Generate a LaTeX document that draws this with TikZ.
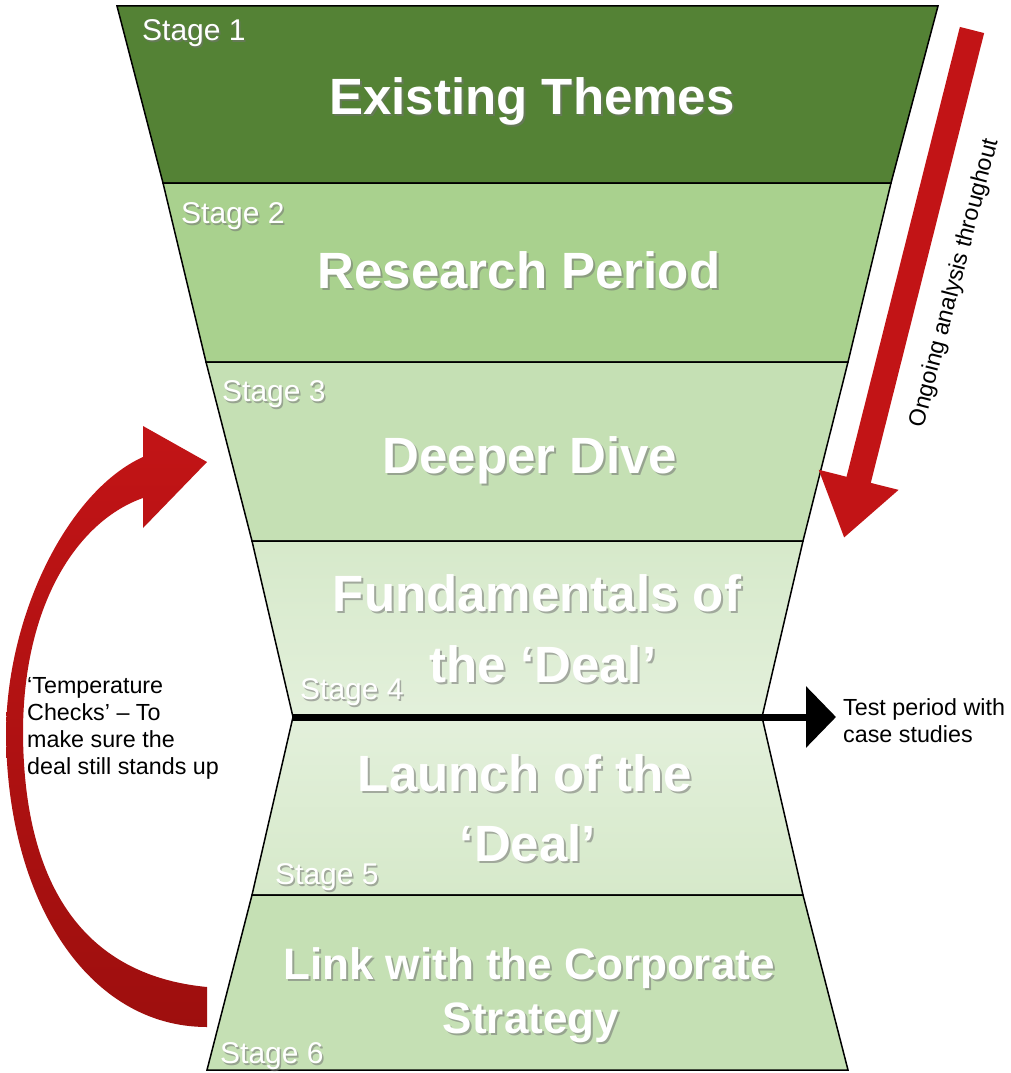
\documentclass[tikz,border=0pt]{standalone}
\usepackage{fontspec}
\setmainfont{Liberation Sans}
\usetikzlibrary{arrows.meta,calc}
\definecolor{sone}{RGB}{84,130,53}
\definecolor{stwo}{RGB}{169,209,142}
\definecolor{sthree}{RGB}{197,224,180}
\definecolor{sfourdk}{RGB}{214,233,202}
\definecolor{sfourlt}{RGB}{227,240,219}
\definecolor{ssix}{RGB}{197,224,180}
\definecolor{arrred}{RGB}{194,20,22}
\definecolor{arrdark}{RGB}{158,15,14}
\newcommand\mkhead[4][]{%
  \node[headsh,#1] at ($(#3)+(2,2.5)$) {#4};
  \node[head,#1] (#2) at (#3) {#4};}
\newcommand\mkstage[3]{%
  \node[stagesh] at ($(#2)+(1.5,2)$) {#3};
  \node[stagelbl] (#1) at (#2) {#3};}
\begin{document}
\begin{tikzpicture}[x=1pt,y=-1pt,
  band/.style={draw=black, line width=1.5pt, line join=miter},
  head/.style={text=white, font=\fontsize{51}{60}\selectfont\bfseries, inner sep=0pt, anchor=base},
  headsh/.style={head, text=black!55, opacity=0.55},
  smallhead/.style={font=\fontsize{44}{52}\selectfont\bfseries},
  stagelbl/.style={text=white, font=\fontsize{30}{34}\selectfont, inner sep=0pt, anchor=base west},
  stagesh/.style={stagelbl, text=black!55, opacity=0.55},
  note/.style={text=black, font=\fontsize{23.3}{27}\selectfont, inner sep=0pt, align=left},
]
\useasboundingbox (0,0) rectangle (1011,1073);
\fill[white] (0,0) rectangle (1011,1073);

% funnel corner coordinates
\coordinate (t0l) at (117,6);   \coordinate (t0r) at (938,6);
\coordinate (t1l) at (163,183); \coordinate (t1r) at (891,183);
\coordinate (t2l) at (206,362); \coordinate (t2r) at (848,362);
\coordinate (t3l) at (252,541); \coordinate (t3r) at (803,541);
\coordinate (mid l) at (293,717); \coordinate (mid r) at (762,717);
\coordinate (t4l) at (252,895); \coordinate (t4r) at (803,895);
\coordinate (t5l) at (207,1070); \coordinate (t5r) at (848,1070);

% bands
\filldraw[band, fill=sone] (t0l) -- (t0r) -- (t1r) -- (t1l) -- cycle;
\filldraw[band, fill=stwo] (t1l) -- (t1r) -- (t2r) -- (t2l) -- cycle;
\filldraw[band, fill=sthree] (t2l) -- (t2r) -- (t3r) -- (t3l) -- cycle;
\shadedraw[band, top color=sfourdk, bottom color=sfourlt] (t3l) -- (t3r) -- (mid r) -- (mid l) -- cycle;
\shadedraw[band, top color=sfourlt, bottom color=sfourdk] (mid l) -- (mid r) -- (t4r) -- (t4l) -- cycle;
\filldraw[band, fill=ssix] (t4l) -- (t4r) -- (t5r) -- (t5l) -- cycle;

% headings
\mkhead{h1}{532,114}{Existing Themes}
\mkhead{h2}{519,288}{Research Period}
\mkhead{h3}{530,473}{Deeper Dive}
\mkhead{h4a}{537,611}{Fundamentals of}
\mkhead{h4b}{543,682}{the ‘Deal’}
\mkhead{h5a}{525,791}{Launch of the}
\mkhead{h5b}{528,861}{‘Deal’}
\mkhead[smallhead]{h6a}{529,979}{Link with the Corporate}
\mkhead[smallhead]{h6b}{531,1033}{Strategy}

% stage labels
\mkstage{s1}{142,41}{Stage 1}
\mkstage{s2}{181,223}{Stage 2}
\mkstage{s3}{222,401}{Stage 3}
\mkstage{s4}{300,699}{Stage 4}
\mkstage{s5}{275,884}{Stage 5}
\mkstage{s6}{220,1063}{Stage 6}

% test period arrow
\coordinate (testend) at (836,717);
\draw[line width=7pt, -{Triangle[length=30pt,width=60pt]}] (mid l) -- (testend);
\node[note, anchor=west] (testtxt) at (843,721) {Test period with\\case studies};

% ongoing analysis arrow
\coordinate (oa top) at (972,30);
\coordinate (oa tip) at (844,538);
\draw[arrred, line width=25pt, -{Triangle[length=60pt,width=78pt]}] (oa top) -- (oa tip);
\node[note, rotate=75.5] (oatxt) at (955,283) {Ongoing analysis throughout};

% temperature checks curved arrow
\shade[top color=arrred, bottom color=arrdark]
  (207,987) -- (207,1027)
  .. controls (88,1027) and (6,900) .. (6,730)
  .. controls (8,610) and (70,490) .. (143,457)
  -- (143,426) -- (207,462) -- (143,528) -- (143,498)
  .. controls (80,520) and (24,600) .. (23,730)
  .. controls (23,880) and (80,975) .. (207,987) -- cycle;
\node[note, anchor=west] (temptxt) at (27,728) {‘Temperature\\Checks’ – To\\make sure the\\deal still stands up};
\end{tikzpicture}
\end{document}
